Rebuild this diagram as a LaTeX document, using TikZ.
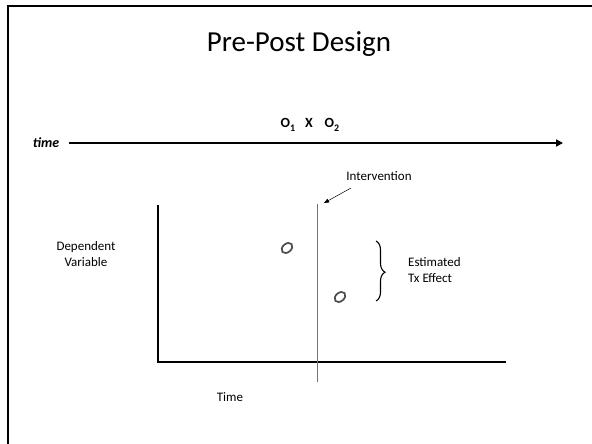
\documentclass[tikz,border=0pt]{standalone}
\usepackage{fontspec}
\setmainfont{Carlito}
\usetikzlibrary{arrows.meta,decorations.pathreplacing,shapes.geometric}
\newcommand{\lowidx}[1]{\raisebox{-0.45ex}{\fontsize{10}{10}\selectfont #1}}
\tikzset{
  label text/.style={font=\fontsize{13}{16.5}\selectfont, align=center, inner sep=0pt},
  design/.style={font=\fontsize{14}{17}\selectfont\bfseries, inner sep=0pt},
  axis line/.style={line width=1.1pt},
  marker/.style={ellipse, draw=black!70, line width=1.7pt, minimum width=12pt, minimum height=8.5pt, inner sep=0pt, rotate=40},
}
\begin{document}
\begin{tikzpicture}[x=1pt,y=-1pt]
  \useasboundingbox (0,0) rectangle (592,444);
  % slide frame (top and left edges)
  \draw[line width=2.2pt] (8,444) -- (8,6) -- (592,6);

  % title
  \node[anchor=base, inner sep=0pt] (title) at (299,52) {\fontsize{29}{35}\selectfont Pre-Post Design};

  % time line with design notation
  \node[inner sep=0pt] (timelbl) at (46,143) {\fontsize{14}{17}\selectfont\bfseries\itshape time};
  \coordinate (tstart) at (69,143);
  \coordinate (tend) at (563,143);
  \draw[line width=1.7pt, -{Triangle[length=7pt,width=7pt]}] (tstart) -- (tend);
  \node[design, anchor=base] (o1) at (288,128) {O\lowidx{1}};
  \node[design, anchor=base] (xx) at (309,128) {X};
  \node[design, anchor=base] (o2) at (332,128) {O\lowidx{2}};

  % axes of the plot
  \coordinate (ytop) at (158,205);
  \coordinate (origin) at (158,362);
  \coordinate (xend) at (506,362);
  \draw[axis line] (ytop) -- (origin) -- (xend);

  % intervention line
  \coordinate (itop) at (317,204);
  \coordinate (ibot) at (317,382);
  \draw[black!55, line width=0.9pt] (itop) -- (ibot);
  \node[label text] (interv) at (379,176) {Intervention};
  \coordinate (istart) at (351,188);
  \coordinate (ihead) at (324,203);
  \draw[line width=0.5pt, -{Triangle[length=5pt,width=4pt]}] (istart) -- (ihead);

  % observations
  \node[marker] (pre) at (287,248) {};
  \node[marker] (post) at (340,297) {};

  % effect brace
  \coordinate (btop) at (376,241);
  \coordinate (bbot) at (376,301);
  \draw[line width=1.1pt, decorate, decoration={brace, amplitude=9pt, aspect=0.52}] (btop) -- (bbot);

  % axis and effect labels
  \node[label text] (dv) at (86,254) {Dependent\\Variable};
  \node[label text, align=left, anchor=west] (effect) at (408,270) {Estimated\\Tx Effect};
  \node[label text] (tlabel) at (230,397) {Time};
\end{tikzpicture}
\end{document}
